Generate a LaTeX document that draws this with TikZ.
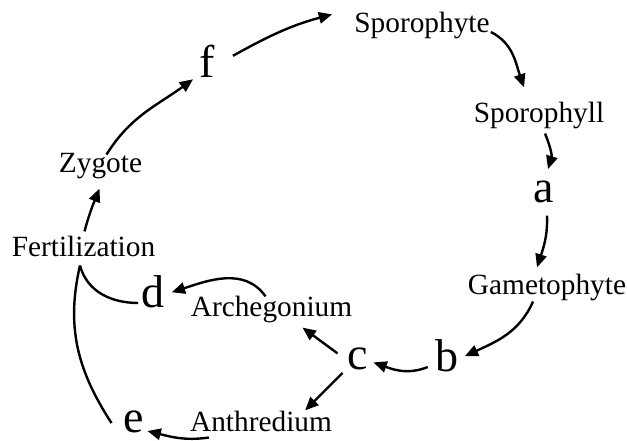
\documentclass[tikz,border=0pt]{standalone}
\usepackage{fontspec}
\setmainfont{Liberation Serif}
\usetikzlibrary{arrows.meta}

\begin{document}
\begin{tikzpicture}[x=0.75pt, y=0.75pt,
		word/.style={inner sep=0pt, font=\fontsize{22}{26}\selectfont, anchor=base},
		letter/.style={inner sep=0pt, font=\fontsize{34.5}{40}\selectfont, anchor=base},
		link/.style={line width=1.8pt, -{Triangle[length=10pt, width=8.5pt]}},
		stem/.style={line width=1.8pt}]
		%%%%% START %%%%%
		
		\useasboundingbox (0, 0) rectangle (627, 441);
		
		\node[word] (spo) at (422, 408) {Sporophyte};
		\node[word] (spl) at (539, 318) {Sporophyll};
		\node[letter] (a) at (544, 238) {a};
		\node[word] (gam) at (547, 146) {Gametophyte};
		\node[letter] (b) at (447, 69) {b};
		\node[letter] (c) at (358, 71) {c};
		\node[word] (arch) at (271.5, 124) {Archegonium};
		\node[word] (anth) at (261, 9) {Anthredium};
		\node[letter] (e) at (134, 8) {e};
		\node[letter] (d) at (153, 133) {d};
		\node[word] (fer) at (83.5, 184) {Fertilization};
		\node[word] (zyg) at (100.5, 268) {Zygote};
		\node[letter] (f) at (207, 363) {f};
		
		\draw[link] ([shift={(6,-1)}]zyg.north) to[out=58, in=216] ([shift={(-6,-1)}]f.south west);
		\draw[link] ([shift={(18,6)}]f.east) to[out=29, in=195] ([shift={(-22,-2)}]spo.north west);
		\draw[link] ([shift={(1,1)}]spo.base east) to[out=-27, in=109] ([shift={(-15,15)}]spl.north);
		\draw[link] ([shift={(6,-4)}]spl.south) to[out=-67, in=73] ([shift={(4,12)}]a.north);
		\draw[link] ([shift={(3,-12)}]a.south) to[out=-88, in=72] ([shift={(-10,7)}]gam.north);
		\draw[link] ([shift={(-14,0)}]gam.south) to[out=-114, in=25] ([shift={(6,0)}]b.east);
		\draw[link] ([shift={(-7.5,5)}]b.base west) to[out=202, in=-20] ([shift={(5,-3)}]c.east);
		
		\draw[link] ([shift={(-10,6)}]c.west) -- ([shift={(31,-4)}]arch.south);
		\draw[link] ([shift={(-5,-3)}]c.base west) -- ([shift={(-27,1)}]anth.north east);
		\draw[link] ([shift={(-6,0)}]arch.north) to[out=125, in=18] ([shift={(7,0)}]d.east);
		\draw[link] ([shift={(19,-5)}]anth.south west) to[out=188, in=-14] ([shift={(3,2)}]e.base east);
		
		\draw[link] ([shift={(1,5)}]fer.north) to[out=75, in=248] ([shift={(-1,-9)}]zyg.south);
		\draw[stem] ([shift={(-3.5,-8)}]fer.south) to[out=-75, in=180] ([shift={(-3,5)}]d.base west);
		\draw[stem] ([shift={(-3.5,-8)}]fer.south) to[out=-103, in=123] ([shift={(-12,-12)}]e.north west);
		
		%%%%% END %%%%%
	\end{tikzpicture}
\end{document}
